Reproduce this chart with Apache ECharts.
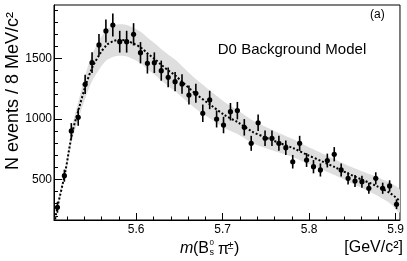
<!DOCTYPE html>
<html>
<head>
<meta charset="utf-8">
<script src="https://cdn.jsdelivr.net/npm/echarts@6/dist/echarts.min.js"></script>
<style>
html,body{margin:0;padding:0;background:#fff;}
#c{width:407px;height:261px;}
</style>
</head>
<body>
<div id="c"></div>
<script>
// ---- data ----
const binCenters = [
  5.509, 5.517, 5.525, 5.533, 5.541, 5.549, 5.557, 5.565, 5.573, 5.581,
  5.589, 5.597, 5.605, 5.613, 5.621, 5.629, 5.637, 5.645, 5.653, 5.661,
  5.669, 5.677, 5.685, 5.693, 5.701, 5.709, 5.717, 5.725, 5.733, 5.741,
  5.749, 5.757, 5.765, 5.773, 5.781, 5.789, 5.797, 5.805, 5.813, 5.821,
  5.829, 5.837, 5.845, 5.853, 5.861, 5.869, 5.877, 5.885, 5.893, 5.901
];
const counts = [
  270, 531, 900, 1013, 1285, 1464, 1610, 1726, 1775, 1637,
  1637, 1698, 1546, 1459, 1464, 1398, 1343, 1307, 1288, 1197,
  1211, 1046, 1156, 999, 949, 1059, 1068, 930, 798, 968,
  840, 840, 798, 762, 646, 798, 660, 605, 578, 656,
  708, 578, 509, 487, 481, 427, 509, 427, 446, 295
];
const errors = [
  45, 50, 65, 70, 80, 85, 90, 95, 95, 90,
  90, 92, 88, 85, 85, 83, 82, 80, 80, 78,
  78, 72, 76, 70, 68, 72, 72, 68, 62, 68,
  64, 64, 62, 60, 56, 62, 57, 55, 54, 57,
  59, 54, 50, 49, 49, 46, 50, 46, 47, 40
];
const curveX = [
  5.5055, 5.509, 5.518, 5.526, 5.534, 5.541, 5.549, 5.558, 5.566, 5.574,
  5.582, 5.590, 5.598, 5.606, 5.614, 5.622, 5.630, 5.638, 5.646, 5.654,
  5.670, 5.686, 5.702, 5.718, 5.734, 5.750, 5.766, 5.782, 5.798, 5.814,
  5.830, 5.846, 5.862, 5.878, 5.894, 5.905
];
const fitY = [
  140, 272, 561, 883, 1090, 1263, 1420, 1536, 1610, 1643,
  1651, 1643, 1618, 1585, 1535, 1490, 1440, 1395, 1354, 1300,
  1200, 1115, 1032, 970, 895, 845, 800, 757, 702, 652,
  600, 545, 495, 445, 385, 320
];
const bandLower = [
  165, 255, 526, 828, 1015, 1168, 1310, 1416, 1485, 1513,
  1521, 1513, 1488, 1455, 1405, 1360, 1310, 1265, 1224, 1172,
  1078, 1000, 924, 870, 800, 757, 720, 682, 632, 585,
  535, 479, 425, 369, 300, 228
];
const bandUpper = [
  170, 289, 596, 938, 1165, 1358, 1530, 1656, 1735, 1773,
  1781, 1773, 1748, 1715, 1665, 1620, 1570, 1525, 1484, 1428,
  1322, 1230, 1140, 1070, 990, 933, 880, 832, 772, 719,
  665, 611, 565, 521, 470, 412
];
const xMajorTicks = [5.6, 5.7, 5.8, 5.9];
const xMinorTicks = [5.52, 5.54, 5.56, 5.58, 5.60, 5.62, 5.64, 5.66, 5.68, 5.70,
  5.72, 5.74, 5.76, 5.78, 5.80, 5.82, 5.84, 5.86, 5.88, 5.90];
const yMajorTicks = [500, 1000, 1500];
const yMinorTicks = [200, 300, 400, 500, 600, 700, 800, 900, 1000, 1100, 1200,
  1300, 1400, 1500, 1600, 1700, 1800, 1900];

const FONT = "'Liberation Sans', Arial, Helvetica, sans-serif";
const chart = echarts.init(document.getElementById('c'), null, {renderer: 'canvas'});

const pointData = binCenters.map((x, i) => [x, counts[i], errors[i]]);
const fitData = curveX.map((x, i) => [x, fitY[i]]);

const xBase = {type: 'value', min: 5.505, max: 5.905, splitLine: {show: false}};
const yBase = {type: 'value', min: 165, max: 1940, splitLine: {show: false}};

chart.setOption({
  animation: false,
  backgroundColor: '#fff',
  grid: {left: 54, top: 5, width: 348, height: 215, show: true, borderColor: '#000', borderWidth: 1, backgroundColor: 'transparent'},
  xAxis: [
    Object.assign({}, xBase, {
      position: 'bottom',
      axisLine: {show: true, lineStyle: {color: '#000', width: 1}},
      axisTick: {show: true, inside: true, length: 7, customValues: xMajorTicks, lineStyle: {color: '#000'}},
      axisLabel: {show: true, customValues: xMajorTicks, formatter: v => v.toFixed(1), color: '#000', fontSize: 12, fontFamily: FONT, margin: 4}
    }),
    Object.assign({}, xBase, {
      position: 'bottom',
      axisLine: {show: false},
      axisTick: {show: true, inside: true, length: 3.5, customValues: xMinorTicks, lineStyle: {color: '#000'}},
      axisLabel: {show: false}
    })
  ],
  yAxis: [
    Object.assign({}, yBase, {
      position: 'left',
      axisLine: {show: true, lineStyle: {color: '#000', width: 1}},
      axisTick: {show: true, inside: true, length: 8, customValues: yMajorTicks, lineStyle: {color: '#000'}},
      axisLabel: {show: true, customValues: yMajorTicks, formatter: v => String(Math.round(v)), color: '#000', fontSize: 12, fontFamily: FONT, margin: 2}
    }),
    Object.assign({}, yBase, {
      position: 'left',
      axisLine: {show: false},
      axisTick: {show: true, inside: true, length: 4, customValues: yMinorTicks, lineStyle: {color: '#000'}},
      axisLabel: {show: false}
    })
  ],
  series: [
    {
      type: 'custom',
      xAxisIndex: 0, yAxisIndex: 0,
      data: [[curveX[0], bandLower[0]]],
      silent: true,
      renderItem: function (params, api) {
        const pts = [];
        for (let i = 0; i < curveX.length; i++) pts.push(api.coord([curveX[i], bandUpper[i]]));
        for (let i = curveX.length - 1; i >= 0; i--) pts.push(api.coord([curveX[i], bandLower[i]]));
        const cs = params.coordSys;
        return {
          type: 'polygon',
          shape: {points: pts, smooth: 0.25},
          style: {fill: '#dedede', stroke: null},
          clipPath: {type: 'rect', shape: {x: cs.x, y: cs.y, width: cs.width, height: cs.height}}
        };
      }
    },
    {
      type: 'line',
      xAxisIndex: 0, yAxisIndex: 0,
      data: fitData,
      symbol: 'none',
      smooth: 0.3,
      clip: true,
      lineStyle: {color: '#000', width: 2, type: [2, 2]},
      z: 3
    },
    {
      type: 'custom',
      xAxisIndex: 0, yAxisIndex: 0,
      data: pointData,
      z: 4,
      renderItem: function (params, api) {
        const x = api.value(0), y = api.value(1), e = api.value(2);
        const c = api.coord([x, y]);
        const t = api.coord([x, y + e]);
        const b = api.coord([x, y - e]);
        return {
          type: 'group',
          children: [
            {type: 'line', shape: {x1: c[0], y1: t[1], x2: c[0], y2: b[1]}, style: {stroke: '#000', lineWidth: 1.6}},
            {type: 'circle', shape: {cx: c[0], cy: c[1], r: 2.6}, style: {fill: '#000'}}
          ]
        };
      }
    }
  ],
  graphic: [
    {type: 'text', left: 370, top: 9, style: {text: '(a)', font: '12px ' + FONT, fill: '#000'}},
    {type: 'text', x: 292, y: 50, style: {text: 'D0 Background Model', font: '15px ' + FONT, fill: '#000', textAlign: 'center', textVerticalAlign: 'middle'}},
    {type: 'text', x: 13, y: 91, rotation: Math.PI / 2, style: {text: 'N events / 8 MeV/c²', font: '18px ' + FONT, fill: '#000', textAlign: 'center', textVerticalAlign: 'middle'}},
    {type: 'text', x: 180, y: 249, style: {text: 'm', font: 'italic 16px ' + FONT, fill: '#000', textVerticalAlign: 'middle'}},
    {type: 'text', x: 193, y: 249, style: {text: '(B', font: '16px ' + FONT, fill: '#000', textVerticalAlign: 'middle'}},
    {type: 'text', x: 209.5, y: 243, style: {text: '0', font: '8px ' + FONT, fill: '#000', textVerticalAlign: 'middle'}},
    {type: 'text', x: 209.5, y: 253, style: {text: 's', font: '9px ' + FONT, fill: '#000', textVerticalAlign: 'middle'}},
    {type: 'text', x: 218, y: 250, style: {text: 'π', font: '16px ' + FONT, fill: '#000', textVerticalAlign: 'middle'}},
    {type: 'text', x: 227.5, y: 246, style: {text: '±', font: '11px ' + FONT, fill: '#000', textVerticalAlign: 'middle'}},
    {type: 'text', x: 234, y: 249, style: {text: ')', font: '16px ' + FONT, fill: '#000', textVerticalAlign: 'middle'}},
    {type: 'text', x: 403, y: 248, style: {text: '[GeV/c²]', font: '16px ' + FONT, fill: '#000', textAlign: 'right', textVerticalAlign: 'middle'}}
  ]
});
</script>
</body>
</html>
